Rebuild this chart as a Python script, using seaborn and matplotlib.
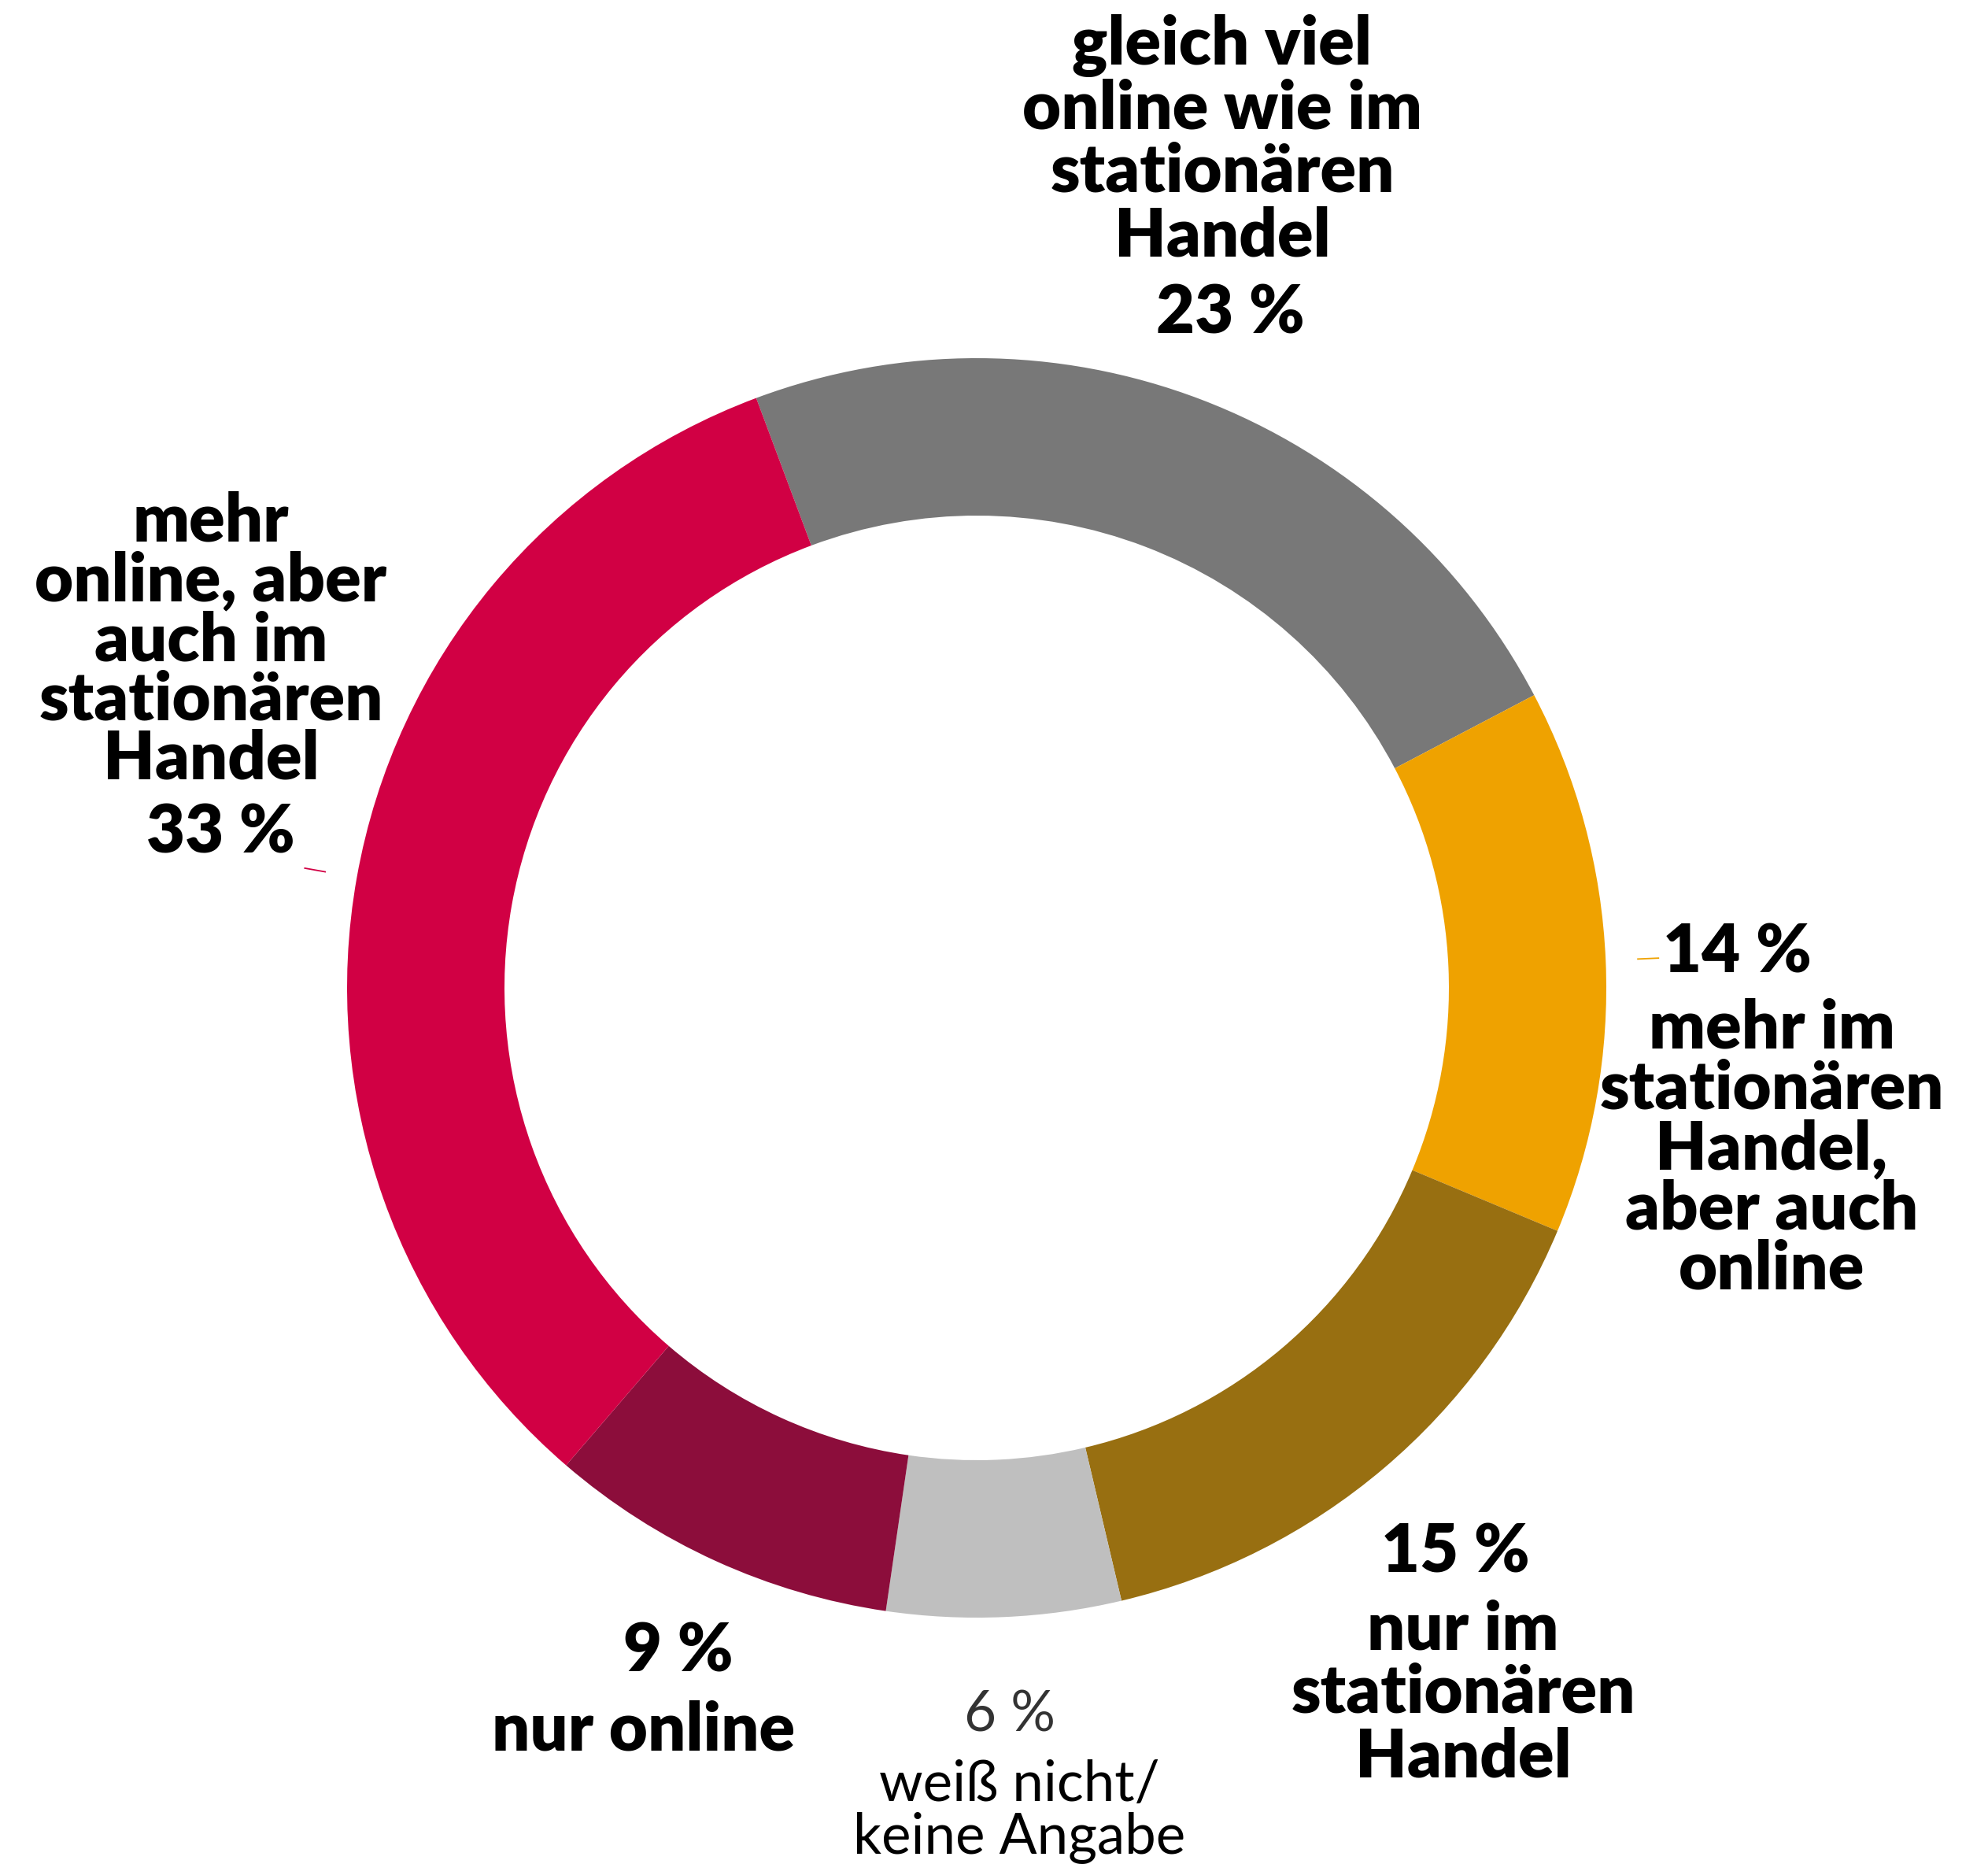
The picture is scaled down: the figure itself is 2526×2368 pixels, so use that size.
import numpy as np
import matplotlib
matplotlib.use("Agg")
import matplotlib.pyplot as plt
import seaborn as sns

# data, clockwise from the top
labels = ["gleich viel online wie im stationären Handel",
          "mehr im stationären Handel, aber auch online",
          "nur im stationären Handel",
          "weiß nicht/ keine Angabe",
          "nur online",
          "mehr online, aber auch im stationären Handel"]
values = [23, 14, 15, 6, 9, 33]
colors = ["#787878", "#EFA200", "#986F11", "#BFBFBF", "#8C0D3B", "#D10044"]

# text layout (pixels): label lines, x, first baseline, line step, pct x, pct baseline
label_lines = [["gleich viel", "online wie im", "stationären", "Handel"],
               ["mehr im", "stationären", "Handel,", "aber auch", "online"],
               ["nur im", "stationären", "Handel"],
               ["weiß nicht/", "keine Angabe"],
               ["nur online"],
               ["mehr", "online, aber", "auch im", "stationären", "Handel"]]
layout = [(1553, 82, 81, 1563, 423),
          (2251, 1332, 76.5, 2207, 1235),
          (1859, 2095, 81, 1849, 1998),
          (1295, 2288, 67, 1283, 2200),
          (818, 2223, 80, 862, 2123),
          (268, 688, 75.5, 280, 1083)]

W, H = 2526, 2368
sns.set_theme(style="white")
plt.rcParams["font.family"] = ["Lato", "DejaVu Sans"]

fig = plt.figure(figsize=(W / 100, H / 100), dpi=100)
fig.patch.set_facecolor("white")

# ring
cx, cy, R = 1241, 1255, 800
ax = fig.add_axes([(cx - R) / W, (H - cy - R) / H, 2 * R / W, 2 * R / H])
start = 110.5
wedges, _ = ax.pie(values, colors=colors, startangle=start, counterclock=False,
                   radius=1, wedgeprops=dict(width=0.25, linewidth=0))
ax.set_xlim(-1, 1)
ax.set_ylim(-1, 1)
ax.set_aspect("equal")
ax.axis("off")

# short leader ticks for the two side labels
for i in (1, 5):
    w = wedges[i]
    mid = np.deg2rad((w.theta1 + w.theta2) / 2)
    r = np.array([1.05, 1.085])
    ax.plot(r * np.cos(mid), r * np.sin(mid), color=colors[i], lw=1.3,
            solid_capstyle="butt", clip_on=False)

# text overlay in pixel coords
tx = fig.add_axes([0, 0, 1, 1])
tx.set_xlim(0, W)
tx.set_ylim(H, 0)
tx.axis("off")
tx.patch.set_alpha(0)

BOLD = 61
REG = 51
for i, lines in enumerate(label_lines):
    x, b0, step, px, pb = layout[i]
    light = i == 3
    for j, line in enumerate(lines):
        tx.text(x, b0 + j * step, line, ha="center", va="baseline",
                fontsize=REG if light else BOLD,
                fontweight="normal" if light else "heavy", color="black")
    tx.text(px, pb, f"{values[i]} %", ha="center", va="baseline",
            fontsize=REG if light else BOLD,
            fontweight="normal" if light else "heavy",
            color="#333333" if light else "black")

fig.savefig("out.png", dpi=100, facecolor="white")
